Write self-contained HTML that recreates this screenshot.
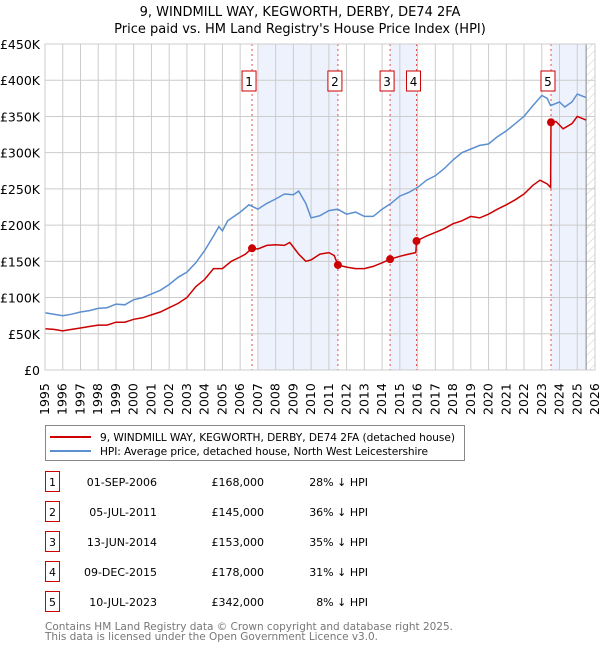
<!DOCTYPE html>
<html><head><meta charset="utf-8"><style>
body{margin:0;background:#fff;font-family:"DejaVu Sans","Liberation Sans",sans-serif;}
svg text{font-family:"DejaVu Sans","Liberation Sans",sans-serif;}
</style></head><body>
<svg id="c" width="600" height="650" xmlns="http://www.w3.org/2000/svg"></svg>
<script>
const hpiX=[1995,1995.5,1996,1996.5,1997,1997.5,1998,1998.5,1999,1999.5,2000,2000.5,2001,2001.5,2002,2002.5,2003,2003.5,2004,2004.5,2004.8,2005,2005.3,2006,2006.5,2007,2007.5,2008,2008.5,2009,2009.3,2009.7,2010,2010.5,2011,2011.5,2012,2012.5,2013,2013.5,2014,2014.5,2015,2015.5,2016,2016.5,2017,2017.5,2018,2018.5,2019,2019.5,2020,2020.5,2021,2021.5,2022,2022.5,2023,2023.3,2023.5,2024,2024.3,2024.7,2025,2025.5];
const hpiY=[79,77,75,77,80,82,85,86,91,90,97,100,105,110,118,128,135,148,165,185,198,192,206,218,228,222,230,236,243,242,247,230,210,213,220,222,215,218,212,212,222,230,240,245,252,262,268,278,290,300,305,310,312,322,330,340,350,365,379,375,365,370,363,370,381,376];
const priceX=[1995,1995.5,1996,1996.5,1997,1997.5,1998,1998.5,1999,1999.5,2000,2000.5,2001,2001.5,2002,2002.5,2003,2003.5,2004,2004.5,2005,2005.5,2006,2006.3,2006.67,2007,2007.5,2008,2008.5,2008.8,2009.3,2009.7,2010,2010.5,2011,2011.3,2011.51,2012,2012.5,2013,2013.5,2014,2014.45,2015,2015.5,2015.9,2015.94,2016.5,2017,2017.5,2018,2018.5,2019,2019.5,2020,2020.5,2021,2021.5,2022,2022.5,2022.9,2023.3,2023.5,2023.52,2023.8,2024.2,2024.7,2025,2025.5];
const priceY=[57,56,54,56,58,60,62,62,66,66,70,72,76,80,86,92,100,115,125,140,140,150,156,160,168,167,172,173,172,176,160,150,152,160,162,158,145,142,140,140,143,148,153,157,160,162,178,185,190,195,202,206,212,210,215,222,228,235,243,255,262,257,252,342,343,333,340,350,345];
const saleX=[2006.67,2011.51,2014.45,2015.94,2023.52];
const saleY=[168,145,153,178,342];
const saleLabels=["1","2","3","4","5"];
const shadeFrom=[2007.0,2014.45,2023.52];
const shadeTo=[2011.51,2015.94,2025.5];
const yTicks=[0,50,100,150,200,250,300,350,400,450];
const yLabels=["£0","£50K","£100K","£150K","£200K","£250K","£300K","£350K","£400K","£450K"];
const years=[1995,1996,1997,1998,1999,2000,2001,2002,2003,2004,2005,2006,2007,2008,2009,2010,2011,2012,2013,2014,2015,2016,2017,2018,2019,2020,2021,2022,2023,2024,2025,2026];
const dates=["01-SEP-2006","05-JUL-2011","13-JUN-2014","09-DEC-2015","10-JUL-2023"];
const prices=["£168,000","£145,000","£153,000","£178,000","£342,000"];
const pcts=["28% ↓ HPI","36% ↓ HPI","35% ↓ HPI","31% ↓ HPI","8% ↓ HPI"];

const L=45,R=595,T=44,B=370;
const x=v=>L+(v-1995)/(2026-1995)*(R-L);
const y=v=>B-v/450*(B-T);
const svg=document.getElementById('c');
const NS="http://www.w3.org/2000/svg";
function mk(tag,attrs,parent){const e=document.createElementNS(NS,tag);for(const k in attrs)e.setAttribute(k,attrs[k]);(parent||svg).appendChild(e);return e;}
function tx(str,attrs,parent){const e=mk('text',attrs,parent);e.textContent=str;return e;}

tx("9, WINDMILL WAY, KEGWORTH, DERBY, DE74 2FA",{x:300,y:16,'text-anchor':'middle','font-size':13,fill:'#000',});
tx("Price paid vs. HM Land Registry's House Price Index (HPI)",{x:300,y:33,'text-anchor':'middle','font-size':13,fill:'#000',});

for(let i=0;i<shadeFrom.length;i++){
 const r=mk('rect',{x:x(shadeFrom[i]),y:T,width:x(shadeTo[i])-x(shadeFrom[i]),height:B-T,fill:'#eef2fc'});
 
}
const defs=mk('defs',{});
const pat=mk('pattern',{id:'h',width:6,height:6,patternUnits:'userSpaceOnUse',patternTransform:'rotate(45)'},defs);
mk('line',{x1:0,y1:0,x2:0,y2:6,stroke:'#ccc','stroke-width':1},pat);
const hr=mk('rect',{x:x(2025.5),y:T,width:R-x(2025.5),height:B-T,fill:'url(#h)'});


for(let i=0;i<years.length;i++){
 const g=mk('line',{x1:x(years[i]),x2:x(years[i]),y1:T,y2:B,stroke:'#cccccc','stroke-width':1});
 
 const xx=x(years[i])+4;
 const t=tx(String(years[i]),{x:xx,y:415,transform:`rotate(-90 ${xx} 415)`,'font-size':12.5,fill:'#000'});
 
}
for(let i=0;i<yTicks.length;i++){
 const g=mk('line',{x1:L,x2:R,y1:y(yTicks[i]),y2:y(yTicks[i]),stroke:'#cccccc','stroke-width':1});
 
 const t=tx(yLabels[i],{x:40,y:y(yTicks[i])+5,'text-anchor':'end','font-size':12.5,fill:'#000'});
 
}
const vl=mk('line',{x1:x(2025.5),x2:x(2025.5),y1:T,y2:B,stroke:'#888','stroke-width':1});


for(let i=0;i<saleX.length;i++){
 const l=mk('line',{x1:x(saleX[i]),x2:x(saleX[i]),y1:T,y2:B,stroke:'#e05050','stroke-width':1,'stroke-dasharray':'2,3'});
 
}
let d='';hpiX.forEach((v,i)=>{d+=(i?'L':'M')+x(v).toFixed(1)+','+y(hpiY[i]).toFixed(1);});
const hp=mk('path',{d:d,fill:'none',stroke:'#5b8fd0','stroke-width':1.5});

d='';priceX.forEach((v,i)=>{d+=(i?'L':'M')+x(v).toFixed(1)+','+y(priceY[i]).toFixed(1);});
const pp=mk('path',{d:d,fill:'none',stroke:'#cc0000','stroke-width':1.5});


for(let i=0;i<saleX.length;i++){
 const c=mk('circle',{cx:x(saleX[i]),cy:y(saleY[i]),r:4,fill:'#cc0000'});
 
 const bx=x(saleX[i])-10;
 const b=mk('rect',{x:bx,y:71,width:14,height:20,fill:'#fff',stroke:'#cc0000','stroke-width':1});
 
 const t=tx(saleLabels[i],{x:bx+7,y:86,'text-anchor':'middle','font-size':12,fill:'#000'});
 
}
const ax=mk('rect',{x:L,y:T,width:R-L,height:B-T,fill:'none',stroke:'#cccccc','stroke-width':1});


// legend
const lg=mk('rect',{x:45.5,y:425.5,width:419,height:35,fill:'#fff',stroke:'#888','stroke-width':1});

mk('line',{x1:50,x2:91,y1:437,y2:437,stroke:'#cc0000','stroke-width':2});
mk('line',{x1:50,x2:91,y1:451,y2:451,stroke:'#5b8fd0','stroke-width':2});
let t=tx("9, WINDMILL WAY, KEGWORTH, DERBY, DE74 2FA (detached house)",{x:100,y:441,'font-size':10.6,fill:'#000',textLength:355});

t=tx("HPI: Average price, detached house, North West Leicestershire",{x:100,y:455,'font-size':10.6,fill:'#000',textLength:328});


for(let i=0;i<5;i++){
 const cy=483+i*30;
 const b=mk('rect',{x:45.5,y:cy-11.5,width:14,height:20,fill:'#fff',stroke:'#cc0000','stroke-width':1});
 
 let e=tx(saleLabels[i],{x:52.5,y:cy+3,'text-anchor':'middle','font-size':11,fill:'#000'});
 
 e=tx(dates[i],{x:157,y:cy+3,'text-anchor':'end','font-size':11,fill:'#000'});
 
 e=tx(prices[i],{x:264,y:cy+3,'text-anchor':'end','font-size':11,fill:'#000'});
 
 e=tx(pcts[i],{x:368,y:cy+3,'text-anchor':'end','font-size':11,fill:'#000'});
 
}
t=tx("Contains HM Land Registry data © Crown copyright and database right 2025.",{x:45,y:630,'font-size':10.5,fill:'#777',textLength:408});

t=tx("This data is licensed under the Open Government Licence v3.0.",{x:45,y:640,'font-size':10.5,fill:'#777',textLength:333});

</script>
</body></html>
